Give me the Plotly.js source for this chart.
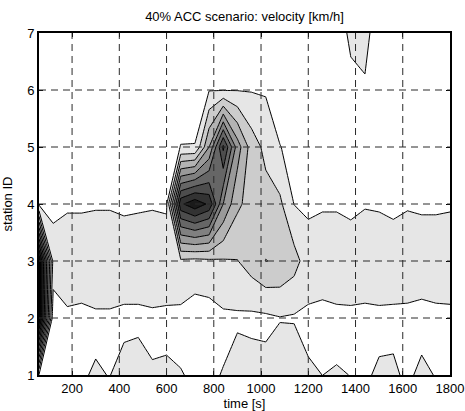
<!DOCTYPE html>
<html>
<head>
<meta charset="utf-8">
<script src="https://cdn.plot.ly/plotly-3.0.1.min.js"></script>
<style>
  html, body { margin: 0; padding: 0; background: #fff; }
  #chart { width: 465px; height: 411px; }
</style>
</head>
<body>
<div id="chart"></div>
<script>
// time axis [s]
const time = [60,120,180,240,300,360,420,480,540,600,660,720,780,840,900,960,1020,1080,1140,1200,1260,1320,1380,1440,1500,1560,1620,1680,1740,1800];
// station IDs
const stations = [1,2,3,4,5,6,7];
// velocity [km/h] per station (estimated from the figure)
const v_st1 = [100.5,104,103,100.52,99.48,100.16,97.07,95.71,99.43,98.94,99.66,101,101,99.7,95.88,96.44,97.6,95.6,91,99.33,100.02,99.51,100.09,100.83,99.07,98.7,101.47,98.14,100.41,102];
const v_st2 = [0,107,101.75,102.46,101.33,101.33,102.21,102.21,101.54,101.97,102.46,105.07,104.48,101.71,101.45,102.0,101.74,100.38,101,101.42,103.29,102.21,101.97,102.46,101.97,102.21,102.46,103.45,102.46,102.21];
const v_st3 = [0,93,93,93,93,93,93,93,93,93,92,93,92,91,90.3,85.3,79.8,81.2,86,95.5,93,93,93,93,93,93,93,93,93,93];
const v_st4 = [102,103.6,101.33,101.33,100.87,100.87,101.86,101.33,100.87,101.5,22,13,22,60,78,84,86,88,100.2,101.66,101.14,101.14,102.72,100.69,101.14,102.59,100.95,101.64,101.64,101.14];
const v_st5 = [104,103,103,103,103,103,103,103,103,102,99.9,99.9,70,28,65,85,92.7,99.9,101,102,103,103,103,103,103,103,103,103,103,103];
const v_st6 = [104,104,104,104,104,104,104,104,104,103,102,101.5,100.5,100.5,100.4,100.6,101,102,103,104,104,104,102,102,104,104,104,104,104,104];
const v_st7 = [104,104,104,104,104,104,104,104,104,104,104,104,104,104,104,104,104,104,104,104,104,103.7,98.55,94.86,109.5,104,104,104,104,104];

const xTicks = [200,400,600,800,1000,1200,1400,1600,1800];
const yTicks = [1,2,3,4,5,6,7];
const xGrid = [200,400,600,800,1000,1200,1400,1600];
const yGrid = [2,3,4,5,6];

const z = [v_st1, v_st2, v_st3, v_st4, v_st5, v_st6, v_st7];

const trace = {
  type: 'contour',
  x: time,
  y: stations,
  z: z,
  autocontour: false,
  contours: { start: 10, end: 100, size: 10, coloring: 'fill', showlines: true },
  colorscale: [[0, '#000000'], [1, '#ffffff']],
  line: { color: '#000000', width: 1, smoothing: 0 },
  showscale: false,
  hoverinfo: 'skip'
};

const dashColor = '#2a2a2a';
const shapes = [];
xGrid.forEach(v => shapes.push({ type: 'line', xref: 'x', yref: 'paper', x0: v, x1: v, y0: 0, y1: 1, layer: 'above', line: { color: dashColor, width: 1, dash: '7px,5px' } }));
yGrid.forEach(v => shapes.push({ type: 'line', xref: 'paper', yref: 'y', x0: 0, x1: 1, y0: v, y1: v, layer: 'above', line: { color: dashColor, width: 1, dash: '7px,5px' } }));

const font = { family: 'Liberation Sans, Arial, Helvetica, sans-serif', size: 13, color: '#000' };

const layout = {
  width: 465, height: 411,
  margin: { l: 39, r: 15, t: 33, b: 36, pad: 0 },
  paper_bgcolor: '#ffffff', plot_bgcolor: '#ffffff',
  font: font,
  showlegend: false,
  title: { text: '40% ACC scenario: velocity [km/h]', font: font, x: 0.5, xref: 'paper', xanchor: 'center', y: 0.961, yref: 'container', yanchor: 'middle' },
  xaxis: {
    range: [60, 1800], tickvals: xTicks, ticktext: xTicks.map(String),
    ticks: 'inside', ticklen: 4, tickwidth: 1, tickcolor: '#000',
    showline: true, mirror: 'ticks', linecolor: '#000', linewidth: 2,
    showgrid: false, zeroline: false, tickfont: font,
    title: { text: 'time [s]', font: font, standoff: 2 },
    layer: 'above traces'
  },
  yaxis: {
    range: [1, 7], tickvals: yTicks, ticktext: yTicks.map(String),
    ticks: 'inside', ticklen: 4, tickwidth: 1, tickcolor: '#000',
    showline: true, mirror: 'ticks', linecolor: '#000', linewidth: 2,
    showgrid: false, zeroline: false, tickfont: font,
    title: { text: 'station ID', font: font, standoff: 14 },
    layer: 'above traces'
  },
  shapes: shapes
};

Plotly.newPlot('chart', [trace], layout, { displayModeBar: false, staticPlot: true });
</script>
</body>
</html>
